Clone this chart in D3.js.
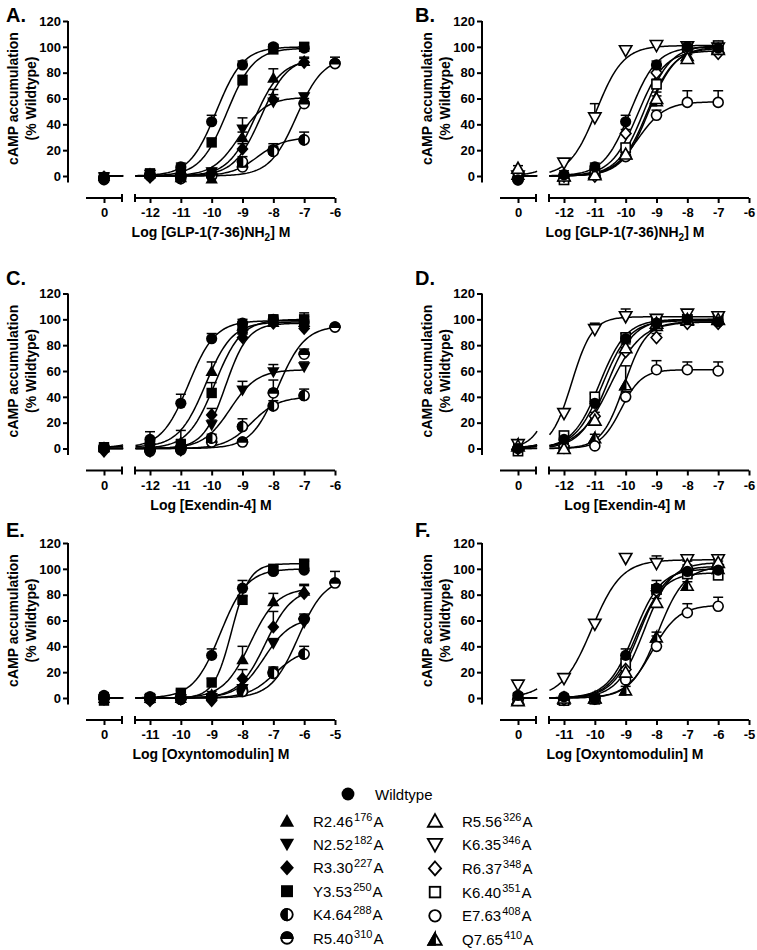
<!DOCTYPE html>
<html><head><meta charset="utf-8">
<script src="https://cdn.jsdelivr.net/npm/d3@7"></script>
<style>
body{margin:0;background:#fff}
svg{display:block}
text{font-family:"Liberation Sans",Arial,Helvetica,sans-serif;fill:#000}
</style>
</head><body>
<svg id="c" width="757" height="950"></svg>
<script>
// ================= DATA =================
const leftSeries  = ["Wildtype","R2.46","N2.52","R3.30","Y3.53","K4.64","R5.40"];
const leftSup     = ["","176","182","227","250","288","310"];
const rightSeries = ["Wildtype","R5.56","K6.35","R6.37","K6.40","E7.63","Q7.65"];
const rightSup    = ["","326","346","348","351","408","410"];

// log molar concentrations; 0 = vehicle (no ligand)
const dosesGLP = [0,-12,-11,-10,-9,-8,-7,-6];
const dosesEx  = [0,-12,-11,-10,-9,-8,-7,-6];
const dosesOxm = [0,-11,-10,-9,-8,-7,-6,-5];
const xTicksGLP = [-12,-11,-10,-9,-8,-7,-6];
const xTicksEx  = [-12,-11,-10,-9,-8,-7,-6];
const xTicksOxm = [-11,-10,-9,-8,-7,-6,-5];
const yTicks = [0,20,40,60,80,100,120];

// Panel A: GLP-1, left-side mutants (mean % wildtype)
const meanA = [
  [-3, 1, 7, 42, 86, 100, 99, null],
  [0, 2, -1, -2, 30, 76, 89, null],
  [-1, 1, -2, 3, 36, 57, 61, null],
  [-2, -1, -1, 2, 21, 59, 88, null],
  [-1, 2, 3, 26, 74, 98, 100, null],
  [-2, 1, -2, 0, 11, 19, 28, null],
  [-1, 0, 0, 1, 7, 20, 56, 87]
];
const semA = [
  [2,3,3,5,3,2,2,null],
  [2,3,2,3,4,7,3,null],
  [2,4,2,3,9,6,3,null],
  [2,2,2,2,4,8,3,null],
  [2,3,2,3,4,2,3,null],
  [2,2,2,2,4,6,6,null],
  [2,2,2,2,3,3,4,5]
];
// fit parameters: [bottom, top, logEC50, hill]
const fitA = [
  [0,100,-9.85,1],[0,90,-8.6,1],[0,61,-9.1,1],[0,92,-8.4,1],
  [0,99,-9.5,1],[0,30,-8.5,1],[0,92,-7.25,1]
];

// Panel B: GLP-1, right-side mutants
const meanB = [
  [-3, 1, 7, 42, 86, 100, 99, null],
  [6, 0, 1, 17, 60, 91, 98, null],
  [0, 10, 45, 97, 101, 100, 99, null],
  [-1, 0, 0, 33, 80, 98, 95, null],
  [0, -3, 2, 22, 71, 100, 101, null],
  [-3, 0, 1, 15, 47, 57, 57, null],
  [1, 0, 2, 17, 58, 93, 99, null]
];
const semB = [
  [2,3,3,5,3,2,2,null],
  [2,2,2,3,5,3,2,null],
  [2,3,11,3,3,3,3,null],
  [2,2,2,3,3,2,3,null],
  [2,2,3,3,4,2,3,null],
  [2,2,2,3,4,9,9,null],
  [2,2,2,3,4,3,3,null]
];
const fitB = [
  [0,100,-9.85,1],[0,100,-9.25,1],[0,101,-10.95,1],[0,97,-9.6,1],
  [0,101,-9.4,1],[0,57.5,-9.6,1],[0,99,-9.3,1]
];

// Panel C: Exendin-4, left-side mutants
const meanC = [
  [0, 7, 35, 85, 97, 100, 98, null],
  [1, 3, 5, 60, 95, 98, 98, null],
  [-1, 0, -2, 18, 45, 59, 63, null],
  [-2, -2, -1, 26, 86, 97, 93, null],
  [1, 2, 3, 43, 92, 100, 100, null],
  [0, -2, -1, 8, 17, 33, 41, null],
  [0, -1, 0, 5, 5, 43, 73, 94]
];
const semC = [
  [3,6,7,4,3,2,2,null],
  [2,4,9,7,3,2,4,null],
  [2,3,3,4,7,6,4,null],
  [2,3,3,5,4,3,3,null],
  [2,3,4,8,4,3,5,null],
  [2,3,3,3,6,4,5,null],
  [2,2,2,3,2,10,4,2]
];
const fitC = [
  [0.5,99,-10.75,1],[1,98,-10.2,1],[0,61,-9.4,1],[0,97,-9.55,1.2],
  [0,100,-9.9,1],[0,40,-8.7,1],[0,95,-7.85,1]
];

// Panel D: Exendin-4, right-side mutants
const meanD = [
  [0, 7, 35, 85, 97, 100, 98, null],
  [2, 0, 22, 78, 97, 100, 100, null],
  [3, 27, 92, 102, 100, 104, 102, null],
  [0, 2, 25, 75, 86, 97, 97, null],
  [-2, 10, 40, 86, 100, 100, 100, null],
  [0, 0, 2, 40, 61, 61, 60, null],
  [3, 0, 8, 49, 95, 99, 100, null]
];
const semD = [
  [3,6,7,4,3,2,2,null],
  [2,2,3,3,3,3,3,null],
  [3,3,5,6,3,3,3,null],
  [2,2,3,3,3,3,3,null],
  [2,3,3,3,3,3,3,null],
  [2,2,2,4,7,6,7,null],
  [2,2,3,15,3,3,3,null]
];
const fitD = [
  [0.5,99,-10.75,1],[0,100,-10.6,1],[0,102,-11.75,1.3],[0,98,-10.5,0.85],
  [0,100,-10.85,1],[0,61,-10.15,1.3],[0,98,-10.05,1.2]
];

// Panel E: Oxyntomodulin, left-side mutants
const meanE = [
  [2, 1, -1, 33, 85, 98, 99, null],
  [0, 0, 0, 3, 30, 75, 83, null],
  [-1, -1, -1, 0, 7, 42, 58, null],
  [-1, -2, -1, -2, 15, 55, 81, null],
  [-2, 0, 4, 12, 76, 100, 104, null],
  [0, 0, -1, 0, 5, 19, 34, null],
  [0, -1, 0, 1, 6, 20, 61, 89]
];
const semE = [
  [2,2,2,5,6,3,2,null],
  [2,2,2,2,10,6,5,null],
  [2,2,2,2,3,4,4,null],
  [2,2,2,2,7,12,6,null],
  [2,2,2,3,3,2,2,null],
  [2,2,2,2,3,5,6,null],
  [2,2,2,2,3,3,4,9]
];
const fitE = [
  [0,100,-8.72,1],[0,85,-7.75,1],[0,62,-7.3,1],[0,85,-7.25,1],
  [0,104,-8.35,1.5],[0,38,-6.95,1],[0,93,-6.2,1]
];

// Panel F: Oxyntomodulin, right-side mutants
const meanF = [
  [2, 1, -1, 33, 85, 98, 99, null],
  [-2, 0, 0, 20, 74, 103, 105, null],
  [10, 15, 57, 108, 104, 107, 107, null],
  [-1, -1, 0, 22, 83, 100, 103, null],
  [0, -2, -1, 27, 84, 96, 95, null],
  [-1, -1, 0, 14, 40, 66, 71, null],
  [-1, -1, 0, 6, 47, 87, 100, null]
];
const semF = [
  [2,2,2,5,6,3,2,null],
  [2,2,2,3,3,3,3,null],
  [3,2,2,2,6,3,3,null],
  [2,2,2,3,3,3,3,null],
  [2,2,2,3,3,3,3,null],
  [2,2,2,3,8,7,7,null],
  [2,2,2,3,4,3,3,null]
];
const fitF = [
  [0,100,-8.72,1],[0,105,-8.4,1],[0,107,-10.1,0.9],[0,102,-8.55,1],
  [0,97,-8.65,1],[0,72,-8.15,1],[0,102,-7.95,1]
];

// ================= STYLE / LAYOUT =================
const leftShapes  = ["fcircle","ftriUp","ftriDown","fdiamond","fsquare","halfLeft","halfTop"];
const rightShapes = ["fcircle","otriUp","otriDown","odiamond","osquare","ocircle","halfTri"];

const rowTop = [21, 293.5, 543];       // pixel of y=120
const rowLabelY = [22, 285, 537];
const colAxis = [68, 482];             // pixel of y-axis
const colLabelX = [6, 415];

const panels = [
  {lab:"A.", r:0, c:0, doses:dosesGLP, ticks:xTicksGLP, veh:-13, names:leftSeries,  shapes:leftShapes,  mean:meanA, sem:semA, fit:fitA, title:["Log [GLP-1(7-36)NH","2","] M"]},
  {lab:"B.", r:0, c:1, doses:dosesGLP, ticks:xTicksGLP, veh:-13, names:rightSeries, shapes:rightShapes, mean:meanB, sem:semB, fit:fitB, title:["Log [GLP-1(7-36)NH","2","] M"]},
  {lab:"C.", r:1, c:0, doses:dosesEx,  ticks:xTicksEx,  veh:-13, names:leftSeries,  shapes:leftShapes,  mean:meanC, sem:semC, fit:fitC, title:["Log [Exendin-4] M"]},
  {lab:"D.", r:1, c:1, doses:dosesEx,  ticks:xTicksEx,  veh:-13, names:rightSeries, shapes:rightShapes, mean:meanD, sem:semD, fit:fitD, title:["Log [Exendin-4] M"]},
  {lab:"E.", r:2, c:0, doses:dosesOxm, ticks:xTicksOxm, veh:-12, names:leftSeries,  shapes:leftShapes,  mean:meanE, sem:semE, fit:fitE, title:["Log [Oxyntomodulin] M"]},
  {lab:"F.", r:2, c:1, doses:dosesOxm, ticks:xTicksOxm, veh:-12, names:rightSeries, shapes:rightShapes, mean:meanF, sem:semF, fit:fitF, title:["Log [Oxyntomodulin] M"]}
];

const svg = d3.select("#c");
svg.append("rect").attr("width",757).attr("height",950).attr("fill","#fff");

function drawMarker(sel, shape, cx, cy, k) {
  const g = sel.append("g").attr("transform", `translate(${cx},${cy}) scale(${k})`);
  const sw = 1.6;
  const open = (el) => el.attr("fill","#fff").attr("stroke","#000").attr("stroke-width",sw);
  const up = "M0,-6L6.2,5L-6.2,5Z", dn = "M0,6L6.2,-5L-6.2,-5Z", dia = "M0,-6.8L6,0L0,6.8L-6,0Z";
  switch(shape){
    case "fcircle": g.append("circle").attr("r",5.6).attr("fill","#000"); break;
    case "ocircle": open(g.append("circle").attr("r",5)); break;
    case "ftriUp": g.append("path").attr("d",up).attr("fill","#000"); break;
    case "otriUp": open(g.append("path").attr("d",up)); break;
    case "ftriDown": g.append("path").attr("d",dn).attr("fill","#000"); break;
    case "otriDown": open(g.append("path").attr("d",dn)); break;
    case "fdiamond": g.append("path").attr("d",dia).attr("fill","#000"); break;
    case "odiamond": open(g.append("path").attr("d","M0,-6L5.3,0L0,6L-5.3,0Z")); break;
    case "fsquare": g.append("rect").attr("x",-5.2).attr("y",-5.2).attr("width",10.4).attr("height",10.4).attr("fill","#000"); break;
    case "osquare": open(g.append("rect").attr("x",-4.6).attr("y",-4.6).attr("width",9.2).attr("height",9.2)); break;
    case "halfLeft":
      open(g.append("circle").attr("r",5));
      g.append("path").attr("d","M0,-5A5,5 0 0,0 0,5Z").attr("fill","#000").attr("stroke","#000").attr("stroke-width",sw);
      break;
    case "halfTop":
      open(g.append("circle").attr("r",5));
      g.append("path").attr("d","M-5,0A5,5 0 0,1 5,0Z").attr("fill","#000").attr("stroke","#000").attr("stroke-width",sw);
      break;
    case "halfTri":
      open(g.append("path").attr("d","M0,-5.5L5.8,4.6L-5.8,4.6Z"));
      g.append("path").attr("d","M0,-5.5L0,4.6L-5.8,4.6Z").attr("fill","#000").attr("stroke","#000").attr("stroke-width",sw).attr("stroke-linejoin","miter");
      break;
  }
}

const logistic = (x, f) => f[0] + (f[1]-f[0]) / (1 + Math.pow(10, (f[2]-x)*f[3]));
const line = d3.line().x(d => d[0]).y(d => d[1]);

panels.forEach(p => {
  const ax = colAxis[p.c];
  const y120 = rowTop[p.r], y0 = y120 + 155;
  const g = svg.append("g");
  const y = d3.scaleLinear().domain([0,120]).range([y0, y120]);
  const first = p.ticks[0], last = p.ticks[p.ticks.length-1];
  const xR = d3.scaleLinear().domain([first, last]).range([ax+82, ax+267]);
  const ppd = 185/(last-first);
  const xL = d3.scaleLinear().domain([p.veh, p.veh+1]).range([ax+36, ax+36+ppd]);
  const xOf = d => d === 0 ? xL(p.veh) : xR(d);
  const xa = y0 + 22;

  // panel letter
  g.append("text").attr("x", colLabelX[p.c]).attr("y", rowLabelY[p.r])
    .attr("font-size", 20).attr("font-weight","bold").text(p.lab);

  // y axis
  g.append("line").attr("x1",ax).attr("x2",ax).attr("y1",y(-5)).attr("y2",y(120))
    .attr("stroke","#000").attr("stroke-width",2);
  const ya = g.append("g").attr("transform",`translate(${ax},0)`)
    .call(d3.axisLeft(y).tickValues(yTicks).tickSize(5).tickPadding(2));
  ya.select(".domain").remove();
  ya.selectAll("line").attr("stroke-width",2);
  ya.selectAll("text").attr("font-size",13).attr("font-weight","bold").attr("font-family","Liberation Sans, Arial, sans-serif");

  // y title
  const my = (y0 + y120)/2;
  g.append("text").attr("transform",`translate(${ax-55},${my}) rotate(-90)`)
    .attr("text-anchor","middle").attr("dominant-baseline","central")
    .attr("font-size",14).attr("font-weight","bold").text("cAMP accumulation");
  g.append("text").attr("transform",`translate(${ax-37},${my}) rotate(-90)`)
    .attr("text-anchor","middle").attr("dominant-baseline","central")
    .attr("font-size",14).attr("font-weight","bold").text("(% Wildtype)");

  // x axis: two segments
  const segL0 = ax+18, segL1 = ax+54, segR0 = ax+67, segR1 = xR(last);
  [[segL0,segL1],[segR0,segR1]].forEach(s => g.append("line").attr("x1",s[0]).attr("x2",s[1])
    .attr("y1",xa).attr("y2",xa).attr("stroke","#000").attr("stroke-width",2));
  [segL1, segR0].forEach(x => g.append("line").attr("x1",x).attr("x2",x)
    .attr("y1",xa-4).attr("y2",xa+4).attr("stroke","#000").attr("stroke-width",2));
  const xaR = g.append("g").attr("transform",`translate(0,${xa})`)
    .call(d3.axisBottom(xR).tickValues(p.ticks).tickFormat(d => String(d)).tickSize(5).tickPadding(5));
  const xaL = g.append("g").attr("transform",`translate(0,${xa})`)
    .call(d3.axisBottom(xL).tickValues([p.veh]).tickFormat(() => "0").tickSize(5).tickPadding(5));
  [xaR, xaL].forEach(a => {
    a.select(".domain").remove();
    a.selectAll("line").attr("stroke-width",2);
    a.selectAll("text").attr("font-size",13).attr("font-weight","bold").attr("font-family","Liberation Sans, Arial, sans-serif");
  });

  // x title
  const tt = g.append("text").attr("x", ax+143).attr("y", y0+61).attr("text-anchor","middle")
    .attr("font-size",14).attr("font-weight","bold");
  tt.append("tspan").text(p.title[0]);
  if (p.title.length > 1) {
    tt.append("tspan").attr("dy",4).attr("font-size",10).text(p.title[1]);
    tt.append("tspan").attr("dy",-4).text(p.title[2]);
  }

  // curves
  const curveG = g.append("g").attr("fill","none").attr("stroke","#000").attr("stroke-width",1.5);
  p.fit.forEach((f, i) => {
    const vals = p.mean[i];
    let li = vals.length - 1; while (vals[li] === null) li--;
    const xEnd = p.doses[li];
    const xStart = first - 0.47;
    const ptsR = d3.range(0,121).map(k => { const x = xStart + (xEnd - xStart)*k/120; return [xR(x), y(logistic(x,f))]; });
    const ptsL = d3.range(0,31).map(k => { const x = p.veh + 0.62*k/30; return [xL(x), y(logistic(x,f))]; });
    curveG.append("path").attr("d", line(ptsR));
    curveG.append("path").attr("d", line(ptsL));
  });

  // error bars (upper)
  const ebG = g.append("g").attr("stroke","#000").attr("stroke-width",1.5);
  p.mean.forEach((vals, i) => {
    vals.forEach((v, j) => {
      if (v === null) return;
      const s = p.sem[i][j]; if (!s) return;
      const cx = xOf(p.doses[j]);
      ebG.append("line").attr("x1",cx).attr("x2",cx).attr("y1",y(v)).attr("y2",y(v+s));
      ebG.append("line").attr("x1",cx-5).attr("x2",cx+5).attr("y1",y(v+s)).attr("y2",y(v+s));
    });
  });

  // markers (wildtype on top)
  const mg = g.append("g");
  for (let i = p.mean.length - 1; i >= 0; i--) {
    p.mean[i].forEach((v, j) => {
      if (v === null) return;
      drawMarker(mg, p.shapes[i], xOf(p.doses[j]), y(v), 1);
    });
  }
});

// ================= LEGEND =================
const lg = svg.append("g");
function legendText(x, yy, name, sup) {
  const t = lg.append("text").attr("x", x).attr("y", yy + 5.5).attr("font-size", 15);
  t.append("tspan").text(name);
  if (sup) {
    t.append("tspan").attr("dx",1).attr("dy",-6).attr("font-size",11).text(sup);
    t.append("tspan").attr("dx",1).attr("dy",6).text("A");
  }
}
drawMarker(lg, "fcircle", 348, 794, 1.15);
legendText(375, 794, leftSeries[0], "");
for (let i = 1; i < leftSeries.length; i++) {
  const yy = 821 + (i-1)*23.4;
  drawMarker(lg, leftShapes[i], 287, yy, 1.15);
  legendText(313, yy, leftSeries[i], leftSup[i]);
  drawMarker(lg, rightShapes[i], 435, yy + (i-1)*0.3, 1.15);
  legendText(462, yy + (i-1)*0.3, rightSeries[i], rightSup[i]);
}
</script>
</body></html>
